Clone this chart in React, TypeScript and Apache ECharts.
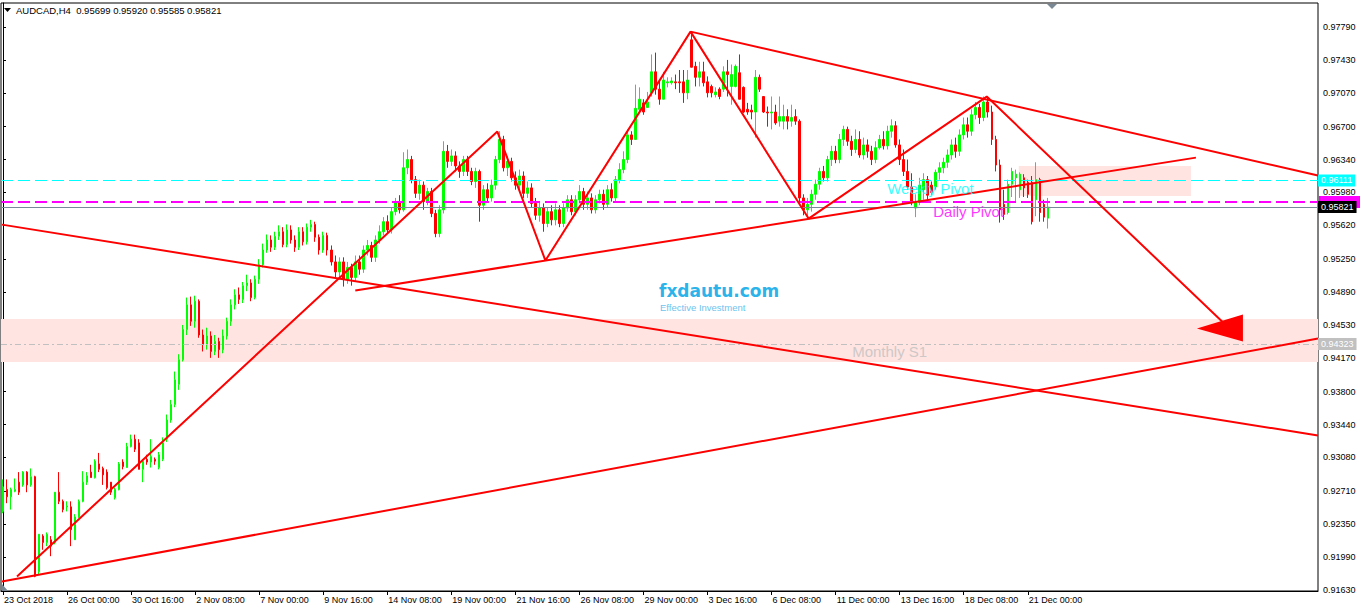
import React, { useEffect, useRef } from 'react';
import * as echarts from 'echarts';

const HEADER = 'AUDCAD,H4  0.95699 0.95920 0.95585 0.95821';
const X_LABELS = ['23 Oct 2018', '26 Oct 00:00', '30 Oct 16:00', '2 Nov 08:00', '7 Nov 00:00', '9 Nov 16:00', '14 Nov 08:00', '19 Nov 00:00', '21 Nov 16:00', '26 Nov 08:00', '29 Nov 00:00', '3 Dec 16:00', '6 Dec 08:00', '11 Dec 00:00', '13 Dec 16:00', '18 Dec 08:00', '21 Dec 00:00'];
const BARS_PER_LABEL = 16;
const SLOT_COUNT = 329;
const Y_TICKS = ['0.97790', '0.97430', '0.97070', '0.96700', '0.96340', '0.95980', '0.95620', '0.95250', '0.94890', '0.94530', '0.94170', '0.93800', '0.93440', '0.93080', '0.92710', '0.92350', '0.91990', '0.91630'];
const Y_MIN = 0.91619;
const Y_MAX = 0.98053;

// H4 candles, 23 Oct 2018 08:00 .. 21 Dec 2018 20:00
const OPEN = [
  0.9249, 0.9273, 0.9265, 0.9271, 0.9281, 0.9278, 0.9292, 0.9278, 0.9287, 0.9183, 0.9222, 0.9215, 0.9218, 0.9215, 0.9270, 0.9260, 0.9254, 0.9254, 0.9218, 0.9243,
  0.9260, 0.9281, 0.9292, 0.9286, 0.9301, 0.9296, 0.9292, 0.9281, 0.9264, 0.9273, 0.9303, 0.9297, 0.9320, 0.9328, 0.9324, 0.9295, 0.9306, 0.9303, 0.9306, 0.9297,
  0.9306, 0.9328, 0.9349, 0.9366, 0.9388, 0.9415, 0.9448, 0.9475, 0.9457, 0.9479, 0.9442, 0.9432, 0.9441, 0.9424, 0.9435, 0.9426, 0.9441, 0.9457, 0.9475, 0.9486,
  0.9481, 0.9496, 0.9499, 0.9483, 0.9503, 0.9519, 0.9535, 0.9546, 0.9538, 0.9550, 0.9555, 0.9541, 0.9557, 0.9546, 0.9538, 0.9555, 0.9544, 0.9560, 0.9563, 0.9549,
  0.9535, 0.9551, 0.9535, 0.9522, 0.9511, 0.9522, 0.9503, 0.9516, 0.9505, 0.9522, 0.9514, 0.9535, 0.9540, 0.9527, 0.9546, 0.9555, 0.9566, 0.9557, 0.9577, 0.9588,
  0.9579, 0.9625, 0.9634, 0.9612, 0.9597, 0.9606, 0.9588, 0.9599, 0.9575, 0.9553, 0.9579, 0.9643, 0.9632, 0.9638, 0.9627, 0.9621, 0.9634, 0.9621, 0.9610, 0.9621,
  0.9584, 0.9601, 0.9592, 0.9606, 0.9634, 0.9656, 0.9625, 0.9632, 0.9614, 0.9606, 0.9616, 0.9597, 0.9603, 0.9586, 0.9573, 0.9581, 0.9564, 0.9577, 0.9568, 0.9579,
  0.9564, 0.9581, 0.9590, 0.9577, 0.9590, 0.9599, 0.9585, 0.9592, 0.9579, 0.9590, 0.9596, 0.9585, 0.9601, 0.9592, 0.9612, 0.9623, 0.9634, 0.9661, 0.9656, 0.9689,
  0.9696, 0.9691, 0.9707, 0.9730, 0.9711, 0.9700, 0.9718, 0.9718, 0.9719, 0.9719, 0.9719, 0.9707, 0.9765, 0.9736, 0.9724, 0.9730, 0.9719, 0.9714, 0.9705, 0.9711,
  0.9711, 0.9730, 0.9714, 0.9714, 0.9729, 0.9713, 0.9689, 0.9688, 0.9686, 0.9724, 0.9703, 0.9686, 0.9685, 0.9686, 0.9676, 0.9676, 0.9681, 0.9676, 0.9681, 0.9676,
  0.9592, 0.9579, 0.9585, 0.9596, 0.9607, 0.9621, 0.9614, 0.9634, 0.9643, 0.9634, 0.9656, 0.9667, 0.9654, 0.9645, 0.9656, 0.9639, 0.9650, 0.9643, 0.9634, 0.9647,
  0.9656, 0.9649, 0.9665, 0.9671, 0.9650, 0.9634, 0.9621, 0.9604, 0.9581, 0.9587, 0.9601, 0.9612, 0.9606, 0.9604, 0.9620, 0.9625, 0.9631, 0.9639, 0.9650, 0.9643,
  0.9661, 0.9672, 0.9665, 0.9683, 0.9691, 0.9680, 0.9697, 0.9686, 0.9656, 0.9628, 0.9585, 0.9576, 0.9607, 0.9614, 0.9601, 0.9614, 0.9609, 0.9609, 0.9590, 0.9612,
  0.9585, 0.95699,
];
const HIGH = [
  0.9284, 0.9284, 0.9275, 0.9285, 0.9292, 0.9293, 0.9293, 0.9296, 0.9288, 0.9224, 0.9224, 0.9226, 0.9222, 0.9270, 0.9292, 0.9262, 0.9260, 0.9260, 0.9246, 0.9262,
  0.9293, 0.9292, 0.9300, 0.9306, 0.9313, 0.9298, 0.9295, 0.9281, 0.9275, 0.9303, 0.9306, 0.9324, 0.9333, 0.9333, 0.9328, 0.9306, 0.9311, 0.9328, 0.9308, 0.9314,
  0.9330, 0.9355, 0.9371, 0.9402, 0.9421, 0.9453, 0.9483, 0.9484, 0.9485, 0.9481, 0.9448, 0.9450, 0.9446, 0.9442, 0.9439, 0.9448, 0.9461, 0.9481, 0.9492, 0.9494,
  0.9500, 0.9508, 0.9503, 0.9507, 0.9525, 0.9542, 0.9552, 0.9551, 0.9555, 0.9562, 0.9560, 0.9563, 0.9562, 0.9551, 0.9560, 0.9560, 0.9564, 0.9568, 0.9566, 0.9552,
  0.9555, 0.9554, 0.9540, 0.9529, 0.9527, 0.9527, 0.9522, 0.9520, 0.9529, 0.9529, 0.9540, 0.9546, 0.9544, 0.9551, 0.9562, 0.9571, 0.9573, 0.9581, 0.9592, 0.9595,
  0.9642, 0.9645, 0.9638, 0.9616, 0.9612, 0.9610, 0.9603, 0.9603, 0.9579, 0.9584, 0.9654, 0.9650, 0.9645, 0.9643, 0.9632, 0.9638, 0.9638, 0.9625, 0.9625, 0.9623,
  0.9606, 0.9608, 0.9612, 0.9638, 0.9665, 0.9660, 0.9638, 0.9636, 0.9621, 0.9623, 0.9621, 0.9610, 0.9608, 0.9592, 0.9588, 0.9586, 0.9581, 0.9584, 0.9586, 0.9584,
  0.9586, 0.9595, 0.9595, 0.9595, 0.9606, 0.9603, 0.9599, 0.9597, 0.9595, 0.9601, 0.9601, 0.9606, 0.9608, 0.9616, 0.9630, 0.9643, 0.9667, 0.9665, 0.9716, 0.9713,
  0.9700, 0.9708, 0.9749, 0.9751, 0.9721, 0.9730, 0.9724, 0.9724, 0.9727, 0.9732, 0.9732, 0.9732, 0.9773, 0.9741, 0.9741, 0.9741, 0.9725, 0.9716, 0.9713, 0.9713,
  0.9736, 0.9743, 0.9738, 0.9738, 0.9749, 0.9714, 0.9696, 0.9694, 0.9732, 0.9727, 0.9703, 0.9692, 0.9703, 0.9694, 0.9703, 0.9694, 0.9689, 0.9694, 0.9689, 0.9678,
  0.9596, 0.9592, 0.9601, 0.9612, 0.9625, 0.9627, 0.9638, 0.9649, 0.9649, 0.9662, 0.9671, 0.9670, 0.9660, 0.9667, 0.9665, 0.9658, 0.9656, 0.9649, 0.9654, 0.9661,
  0.9665, 0.9671, 0.9678, 0.9676, 0.9656, 0.9645, 0.9634, 0.9619, 0.9596, 0.9614, 0.9619, 0.9616, 0.9610, 0.9623, 0.9631, 0.9636, 0.9645, 0.9656, 0.9658, 0.9667,
  0.9680, 0.9680, 0.9689, 0.9697, 0.9695, 0.9703, 0.9702, 0.9693, 0.9660, 0.9634, 0.9601, 0.9612, 0.9625, 0.9623, 0.9620, 0.9618, 0.9612, 0.9616, 0.9631, 0.9614,
  0.9590, 0.95920,
];
const LOW = [
  0.9247, 0.9258, 0.9251, 0.9270, 0.9267, 0.9276, 0.9270, 0.9276, 0.9177, 0.9180, 0.9207, 0.9211, 0.9200, 0.9213, 0.9257, 0.9248, 0.9249, 0.9211, 0.9218, 0.9242,
  0.9259, 0.9278, 0.9286, 0.9285, 0.9292, 0.9278, 0.9273, 0.9267, 0.9262, 0.9272, 0.9295, 0.9297, 0.9319, 0.9314, 0.9295, 0.9281, 0.9300, 0.9297, 0.9300, 0.9295,
  0.9304, 0.9325, 0.9346, 0.9363, 0.9382, 0.9413, 0.9442, 0.9452, 0.9450, 0.9439, 0.9424, 0.9426, 0.9417, 0.9420, 0.9417, 0.9422, 0.9437, 0.9452, 0.9470, 0.9476,
  0.9477, 0.9490, 0.9479, 0.9481, 0.9498, 0.9516, 0.9532, 0.9533, 0.9535, 0.9546, 0.9538, 0.9538, 0.9542, 0.9533, 0.9535, 0.9540, 0.9541, 0.9555, 0.9544, 0.9530,
  0.9532, 0.9529, 0.9518, 0.9505, 0.9503, 0.9495, 0.9498, 0.9496, 0.9500, 0.9508, 0.9510, 0.9529, 0.9522, 0.9522, 0.9542, 0.9551, 0.9553, 0.9553, 0.9573, 0.9575,
  0.9577, 0.9618, 0.9608, 0.9592, 0.9590, 0.9579, 0.9584, 0.9571, 0.9549, 0.9549, 0.9575, 0.9625, 0.9627, 0.9621, 0.9614, 0.9616, 0.9616, 0.9606, 0.9603, 0.9566,
  0.9579, 0.9588, 0.9588, 0.9601, 0.9630, 0.9621, 0.9616, 0.9610, 0.9601, 0.9601, 0.9592, 0.9592, 0.9581, 0.9568, 0.9566, 0.9555, 0.9560, 0.9562, 0.9562, 0.9560,
  0.9560, 0.9577, 0.9573, 0.9573, 0.9586, 0.9579, 0.9579, 0.9575, 0.9575, 0.9586, 0.9579, 0.9581, 0.9588, 0.9588, 0.9608, 0.9619, 0.9630, 0.9650, 0.9656, 0.9685,
  0.9683, 0.9691, 0.9703, 0.9705, 0.9694, 0.9700, 0.9713, 0.9716, 0.9711, 0.9707, 0.9696, 0.9700, 0.9735, 0.9714, 0.9714, 0.9714, 0.9702, 0.9702, 0.9702, 0.9700,
  0.9708, 0.9703, 0.9694, 0.9713, 0.9700, 0.9685, 0.9683, 0.9678, 0.9658, 0.9708, 0.9685, 0.9670, 0.9667, 0.9672, 0.9670, 0.9667, 0.9667, 0.9670, 0.9672, 0.9585,
  0.9573, 0.9569, 0.9577, 0.9590, 0.9601, 0.9610, 0.9610, 0.9627, 0.9630, 0.9630, 0.9649, 0.9649, 0.9638, 0.9641, 0.9636, 0.9634, 0.9636, 0.9628, 0.9630, 0.9645,
  0.9645, 0.9645, 0.9658, 0.9647, 0.9628, 0.9616, 0.9601, 0.9584, 0.9571, 0.9584, 0.9590, 0.9590, 0.9595, 0.9601, 0.9612, 0.9619, 0.9625, 0.9634, 0.9636, 0.9638,
  0.9656, 0.9658, 0.9660, 0.9678, 0.9673, 0.9676, 0.9680, 0.9650, 0.9621, 0.9565, 0.9568, 0.9574, 0.9593, 0.9587, 0.9592, 0.9593, 0.9592, 0.9563, 0.9572, 0.9566,
  0.9566, 0.95585,
];
const CLOSE = [
  0.9276, 0.9265, 0.9273, 0.9273, 0.9270, 0.9292, 0.9278, 0.9287, 0.9178, 0.9224, 0.9215, 0.9224, 0.9211, 0.9270, 0.9260, 0.9251, 0.9255, 0.9229, 0.9243, 0.9260,
  0.9281, 0.9288, 0.9286, 0.9304, 0.9295, 0.9289, 0.9275, 0.9270, 0.9273, 0.9301, 0.9298, 0.9320, 0.9328, 0.9317, 0.9295, 0.9304, 0.9303, 0.9309, 0.9304, 0.9311,
  0.9324, 0.9349, 0.9366, 0.9393, 0.9415, 0.9448, 0.9475, 0.9457, 0.9479, 0.9442, 0.9432, 0.9441, 0.9424, 0.9435, 0.9426, 0.9441, 0.9457, 0.9475, 0.9486, 0.9481,
  0.9496, 0.9499, 0.9483, 0.9503, 0.9519, 0.9535, 0.9546, 0.9538, 0.9550, 0.9555, 0.9541, 0.9557, 0.9546, 0.9538, 0.9555, 0.9544, 0.9560, 0.9563, 0.9549, 0.9535,
  0.9551, 0.9535, 0.9522, 0.9511, 0.9522, 0.9503, 0.9516, 0.9505, 0.9522, 0.9514, 0.9535, 0.9540, 0.9527, 0.9546, 0.9555, 0.9566, 0.9557, 0.9577, 0.9588, 0.9579,
  0.9625, 0.9634, 0.9612, 0.9597, 0.9606, 0.9588, 0.9599, 0.9575, 0.9553, 0.9579, 0.9643, 0.9632, 0.9638, 0.9627, 0.9621, 0.9634, 0.9621, 0.9610, 0.9621, 0.9584,
  0.9601, 0.9592, 0.9606, 0.9634, 0.9656, 0.9625, 0.9632, 0.9614, 0.9606, 0.9616, 0.9597, 0.9603, 0.9586, 0.9573, 0.9581, 0.9564, 0.9577, 0.9568, 0.9579, 0.9564,
  0.9581, 0.9590, 0.9577, 0.9590, 0.9599, 0.9585, 0.9592, 0.9579, 0.9590, 0.9596, 0.9585, 0.9601, 0.9592, 0.9612, 0.9623, 0.9634, 0.9661, 0.9656, 0.9690, 0.9700,
  0.9686, 0.9697, 0.9730, 0.9711, 0.9700, 0.9721, 0.9719, 0.9720, 0.9718, 0.9718, 0.9707, 0.9721, 0.9735, 0.9724, 0.9730, 0.9718, 0.9707, 0.9707, 0.9708, 0.9703,
  0.9730, 0.9727, 0.9727, 0.9736, 0.9700, 0.9686, 0.9686, 0.9686, 0.9724, 0.9711, 0.9686, 0.9685, 0.9686, 0.9674, 0.9681, 0.9681, 0.9676, 0.9680, 0.9676, 0.9592,
  0.9579, 0.9585, 0.9596, 0.9607, 0.9621, 0.9614, 0.9634, 0.9643, 0.9634, 0.9656, 0.9667, 0.9654, 0.9645, 0.9656, 0.9639, 0.9650, 0.9643, 0.9634, 0.9647, 0.9656,
  0.9649, 0.9665, 0.9671, 0.9650, 0.9634, 0.9621, 0.9604, 0.9587, 0.9587, 0.9606, 0.9612, 0.9595, 0.9598, 0.9620, 0.9625, 0.9631, 0.9639, 0.9650, 0.9643, 0.9661,
  0.9672, 0.9665, 0.9683, 0.9691, 0.9680, 0.9697, 0.9686, 0.9656, 0.9628, 0.9579, 0.9574, 0.9607, 0.9621, 0.9618, 0.9618, 0.9603, 0.9596, 0.9566, 0.9612, 0.9576,
  0.9571, 0.95821,
];

const WEEKLY_PIVOT = 0.96111;
const DAILY_PIVOT = 0.95875;
const BID = 0.95821;
const MONTHLY_S1 = 0.94323;
const S1_ZONE = [0.94595, 0.94125];
const BOX_BARS = [253.75, 296.75];
const BOX_PRICES = [0.96269, 0.95941];

const LINE_FALLING_BARS = [-0.25, 328.5];
const LINE_FALLING_PRICES = [0.95628, 0.9332];
const LINE_RISING_BARS = [-0.25, 328.5];
const LINE_RISING_PRICES = [0.91723, 0.94381];
const ZIGZAG_BARS = [3.5, 123.5, 135.5, 171.75, 201.25, 245.75, 309.25];
const ZIGZAG_PRICES = [0.91778, 0.96646, 0.95235, 0.9774, 0.95694, 0.97029, 0.9437];
const TOP_LINE_BARS = [171.75, 328.5];
const TOP_LINE_PRICES = [0.9774, 0.96165];
const SUPPORT_BARS = [88, 298];
const SUPPORT_PRICES = [0.94906, 0.96361];
const ARROW_BARS = [298.25, 309.75, 309.75];
const ARROW_PRICES = [0.94491, 0.94644, 0.94348];

const NOTE_TEXTS = ['Weekly Pivot', 'Daily Pivot', 'Monthly S1'];
const NOTE_BARS = [221, 232.5, 212.25];
const NOTE_PRICES = [0.96022, 0.95771, 0.94239];
const NOTE_COLORS = ['#00FFFF', '#FF00FF', '#C0C0C0'];

const LOGO = 'fxdautu.com';
const LOGO_SUB = 'Effective Investment';

const FONT = '"Liberation Sans", Arial, sans-serif';

function isLabelIndex(i: number) {
  return i % BARS_PER_LABEL === 0 && i / BARS_PER_LABEL < X_LABELS.length;
}

export default function App() {
  const ref = useRef<HTMLDivElement>(null);
  useEffect(() => {
    if (!ref.current) return;
    const chart = echarts.init(ref.current, undefined, { renderer: 'svg' });
    const categories = Array.from({ length: SLOT_COUNT }, (_, i) => String(i));
    const candles = categories.map((_, i) =>
      i < OPEN.length ? [OPEN[i], CLOSE[i], LOW[i], HIGH[i]] : '-'
    );
    const yVals = Y_TICKS.map(Number);
    const redLine = (bars: number[], prices: number[]) => ({
      type: 'line',
      xAxisIndex: 1,
      yAxisIndex: 0,
      data: bars.map((b, i) => [b, prices[i]]),
      symbol: 'none',
      silent: true,
      z: 6,
      lineStyle: { color: '#FF0000', width: 2 },
    });
    const hLine = (value: number, color: string, type: any, width: number, label: any, z: number) => ({
      type: 'line',
      xAxisIndex: 1,
      yAxisIndex: 0,
      data: [],
      z,
      markLine: {
        silent: true,
        symbol: 'none',
        precision: 5,
        animation: false,
        lineStyle: { color, type, width },
        label,
        data: [{ yAxis: value }],
      },
    });
    const priceTag = (bg: string, fg: string) => ({
      show: true,
      position: 'end',
      distance: 0,
      formatter: (p: any) => Number(p.value).toFixed(5),
      backgroundColor: bg,
      color: fg,
      fontSize: 9,
      fontFamily: FONT,
      padding: [2, 3, 1, 3],
    });
    const option: any = {
      animation: false,
      backgroundColor: '#FFFFFF',
      grid: { left: 1, top: 3, right: 44, bottom: 17, show: true, borderColor: '#000', borderWidth: 1, backgroundColor: 'transparent' },
      xAxis: [
        {
          type: 'category',
          data: categories,
          boundaryGap: true,
          axisLine: { show: true, lineStyle: { color: '#000', width: 1 } },
          axisTick: { show: true, alignWithLabel: true, length: 4, interval: (i: number) => isLabelIndex(i), lineStyle: { color: '#000' } },
          axisLabel: {
            show: true,
            interval: (i: number) => isLabelIndex(i),
            formatter: (_v: string, i: number) => (isLabelIndex(i) ? X_LABELS[i / BARS_PER_LABEL] : ''),
            align: 'left',
            margin: 4,
            fontSize: 9,
            fontFamily: FONT,
            color: '#000',
            padding: [0, 0, 0, 1],
          },
          splitLine: { show: false },
        },
        { type: 'value', min: -0.5, max: SLOT_COUNT - 0.5, show: false },
      ],
      yAxis: {
        type: 'value',
        position: 'right',
        min: Y_MIN,
        max: Y_MAX,
        scale: true,
        splitLine: { show: false },
        axisLine: { show: true, lineStyle: { color: '#000' } },
        axisTick: { show: true, length: 3, customValues: yVals, lineStyle: { color: '#000' } },
        axisLabel: {
          show: true,
          customValues: yVals,
          formatter: (v: number) => v.toFixed(5),
          fontSize: 9,
          fontFamily: FONT,
          color: '#000',
          margin: 5,
          showMinLabel: true,
          showMaxLabel: true,
        },
      },
      graphic: [
        { type: 'polygon', shape: { points: [[4, 8], [11, 8], [7.5, 12]] }, style: { fill: '#000' }, z: 100 },
        { type: 'text', x: 16, y: 5, style: { text: HEADER, font: `9.5px ${FONT}`, fill: '#000' }, z: 100 },
        { type: 'polygon', shape: { points: [[1047, 4], [1057, 4], [1052, 9]] }, style: { fill: '#7A8896' }, z: 100 },
        { type: 'polygon', shape: { points: [[2, 584], [2, 591], [8, 591]] }, style: { fill: '#7A8896' }, z: 100 },
        { type: 'text', x: 659, y: 282, style: { text: LOGO, font: `bold 17px "DejaVu Sans", sans-serif`, fill: '#2CB3EA' }, z: 1 },
        { type: 'text', x: 660, y: 302, style: { text: LOGO_SUB, font: `9.5px ${FONT}`, fill: '#6EC3EE' }, z: 1 },
      ],
      series: [
        {
          type: 'line',
          xAxisIndex: 1,
          yAxisIndex: 0,
          data: [],
          z: 1,
          markArea: {
            silent: true,
            itemStyle: { color: '#FFE4E1' },
            data: [
              [{ yAxis: S1_ZONE[0] }, { yAxis: S1_ZONE[1] }],
              [{ xAxis: BOX_BARS[0], yAxis: BOX_PRICES[0] }, { xAxis: BOX_BARS[1], yAxis: BOX_PRICES[1] }],
            ],
          },
        },
        hLine(MONTHLY_S1, '#C0C0C0', [6, 3, 2, 3], 1, priceTag('#C0C0C0', '#FFFFFF'), 2),
        {
          type: 'candlestick',
          xAxisIndex: 0,
          yAxisIndex: 0,
          data: candles,
          barWidth: 2,
          z: 3,
          itemStyle: { color: '#00FF00', color0: '#FF0000', borderColor: '#00FF00', borderColor0: '#FF0000', borderWidth: 1 },
        },
        hLine(WEEKLY_PIVOT, '#00FFFF', [12, 5], 1, priceTag('#00FFFF', '#FFFFFF'), 4),
        hLine(DAILY_PIVOT, '#FF00FF', [12, 5], 2, { show: false }, 4),
        {
          type: 'custom',
          xAxisIndex: 1,
          yAxisIndex: 0,
          silent: true,
          clip: false,
          z: 4,
          data: [[SLOT_COUNT - 0.5, DAILY_PIVOT]],
          renderItem: (_p: any, api: any) => {
            const c = api.coord([SLOT_COUNT - 0.5, DAILY_PIVOT]);
            return { type: 'rect', shape: { x: c[0] + 1, y: c[1] - 6, width: 41, height: 12 }, style: { fill: '#FF00FF' } };
          },
        },
        hLine(BID, '#778899', 'solid', 1, priceTag('#000000', '#FFFFFF'), 5),
        redLine(LINE_FALLING_BARS, LINE_FALLING_PRICES),
        redLine(LINE_RISING_BARS, LINE_RISING_PRICES),
        redLine(ZIGZAG_BARS, ZIGZAG_PRICES),
        redLine(TOP_LINE_BARS, TOP_LINE_PRICES),
        redLine(SUPPORT_BARS, SUPPORT_PRICES),
        {
          type: 'custom',
          xAxisIndex: 1,
          yAxisIndex: 0,
          silent: true,
          z: 7,
          data: [[ARROW_BARS[0], ARROW_PRICES[0]]],
          renderItem: (_p: any, api: any) => ({
            type: 'polygon',
            shape: { points: ARROW_BARS.map((b, i) => api.coord([b, ARROW_PRICES[i]])) },
            style: { fill: '#FF0000' },
          }),
        },
        ...NOTE_TEXTS.map((t, i) => ({
          type: 'scatter',
          xAxisIndex: 1,
          yAxisIndex: 0,
          symbolSize: 1,
          itemStyle: { color: 'transparent' },
          silent: true,
          z: 8,
          data: [[NOTE_BARS[i], NOTE_PRICES[i]]],
          label: {
            show: true,
            formatter: t,
            position: [0, 0],
            align: 'left',
            verticalAlign: 'middle',
            color: NOTE_COLORS[i],
            fontSize: 15,
            fontFamily: FONT,
          },
        })),
      ],
    };
    chart.setOption(option);
    return () => chart.dispose();
  }, []);
  return <div ref={ref} style={{ position: 'absolute', left: 0, top: 0, width: 1362, height: 608, background: '#fff' }} />;
}
